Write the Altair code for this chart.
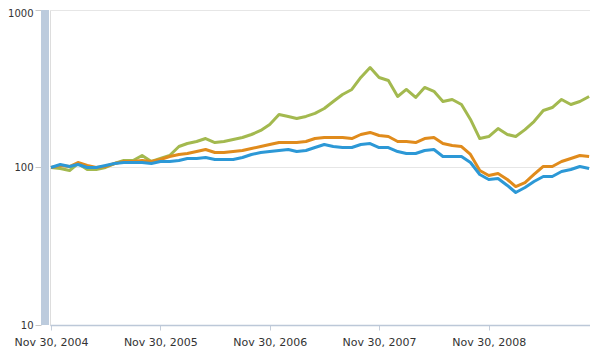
import altair as alt
import pandas as pd

# Monthly observations, Nov 2004 - Oct 2009 (indexed to 100)
dates = [d.strftime("%Y-%m-%dT00:00:00") for d in pd.date_range("2004-11-30", periods=60, freq="ME")]

green = [100, 98.5, 95.7, 106, 97.1, 97.1, 100, 106, 110.8, 110.8,
         119.2, 109.2, 114.1, 119.2, 135.9, 142.0, 146.2, 152.7, 144.1, 146.2,
         150.5, 155.0, 162.0, 171.8, 187.6, 217.2, 211.0, 204.7, 211.0, 220.4,
         237.0, 262.5, 290.9, 313.0, 373.0, 431.5, 373.0, 356.9, 282.5, 313.0,
         278.4, 322.3, 304.5, 262.5, 270.4, 251.1, 201.9, 152.7, 157.3, 176.8,
         162.0, 157.3, 174.0, 195.8, 230.2, 240.3, 270.4, 251.1, 262.5, 282.5]

orange = [100, 103.0, 101.5, 107.6, 103.0, 100, 101.5, 106.0, 109.2, 109.2,
          110.8, 109.2, 112.4, 117.5, 121.0, 122.7, 126.3, 130.1, 124.5, 124.5,
          126.3, 128.2, 132.0, 135.9, 139.9, 144.1, 144.1, 144.1, 146.2, 152.7,
          155.0, 155.0, 155.0, 152.7, 162.0, 167.0, 159.6, 157.3, 146.2, 146.2,
          144.1, 152.7, 155.0, 142.0, 137.9, 135.9, 121.0, 95.7, 89.0, 91.6,
          83.9, 75.7, 80.3, 90.3, 101.5, 101.5, 109.2, 114.1, 119.2, 117.5]

blue = [100, 104.5, 101.5, 104.5, 100, 100, 103.0, 106.0, 107.6, 107.6,
        107.6, 106.0, 109.2, 109.2, 110.8, 114.1, 114.1, 115.8, 112.4, 112.4,
        112.4, 115.8, 121.0, 124.5, 126.3, 128.2, 130.1, 126.3, 128.2, 133.9,
        139.9, 135.9, 133.9, 133.9, 139.9, 142.0, 133.9, 133.9, 126.3, 122.7,
        122.7, 128.2, 130.1, 117.5, 117.5, 117.5, 107.6, 90.3, 83.9, 85.1,
        76.9, 69.4, 74.6, 81.5, 87.7, 87.7, 94.3, 97.1, 101.5, 98.5]

series_names = ["Series A", "Series B", "Series C"]
series_colors = ["#a3b94f", "#e08b1c", "#2c98d6"]

rows = []
for name, vals in zip(series_names, [green, orange, blue]):
    for d, v in zip(dates, vals):
        rows.append({"date": d, "value": v, "series": name})
df = pd.DataFrame(rows)

tick_dates = [alt.DateTime(year=y, month=11, date=30) for y in [2004, 2005, 2006, 2007, 2008]]

W, H = 540, 315

x_enc = alt.X(
    "date:T",
    scale=alt.Scale(domain=[alt.DateTime(year=2004, month=11, date=26, hours=16),
                            alt.DateTime(year=2009, month=11, date=2, hours=22)]),
    axis=alt.Axis(values=tick_dates, format="%b %d, %Y", title=None, grid=False,
                  domainColor="#bcc8d8", domainWidth=1.5, tickColor="#c5cedb", tickSize=5,
                  labelColor="#333333", labelFont="DejaVu Sans", labelFontSize=11,
                  labelPadding=6, labelFlush=False),
)
y_enc = alt.Y(
    "value:Q",
    scale=alt.Scale(type="log", domain=[10, 1000]),
    axis=alt.Axis(values=[10, 100, 1000], format="d", title=None, domain=False,
                  grid=True, gridColor="#e6e6e6", offset=9, tickSize=6, tickColor="#c8c8c8",
                  labelColor="#333333", labelFont="DejaVu Sans", labelFontSize=10,
                  labelPadding=2, labelFlush=False,
                  labelOffset={"condition": {"test": "datum.value == 1000", "value": 3}, "value": 0}),
)

lines = alt.Chart(df).mark_line(strokeWidth=3, strokeJoin="round").encode(
    x=x_enc,
    y=y_enc,
    color=alt.Color("series:N", scale=alt.Scale(domain=series_names, range=series_colors), legend=None),
)

bar = alt.Chart(pd.DataFrame({"k": [0]})).mark_rect(color="#bccbdd").encode(
    x=alt.value(-9), x2=alt.value(-1), y=alt.value(0), y2=alt.value(H)
)

chart = alt.layer(lines, bar).properties(
    width=W, height=H,
    autosize=alt.AutoSizeParams(type="none"),
    padding={"left": 42, "top": 2, "right": 0, "bottom": 25},
).configure_view(stroke=None).configure(background="white")

chart.save("out.html", embed_options={"renderer": "svg", "actions": False})
